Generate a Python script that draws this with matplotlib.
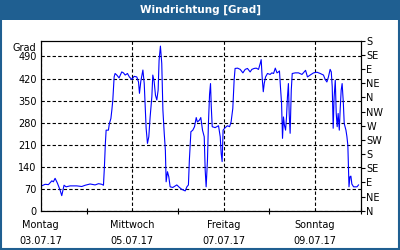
import matplotlib
matplotlib.use('Agg')
import matplotlib.pyplot as plt
import matplotlib.dates as mdates
from matplotlib.patches import Rectangle
from datetime import datetime, timedelta

start = datetime(2017, 7, 3)

# hours since Monday 03.07.17 00:00, wind direction in degrees
hours = [0.0, 2.3, 4.0, 5.8, 6.6, 7.5, 8.7, 10.1, 11.0, 12.2, 13.3, 15.4, 18.9, 21.5,
         23.3, 25.9, 28.5, 30.3, 32.0, 32.9, 33.4, 33.9, 34.3, 35.5, 36.0, 36.8, 37.3,
         37.8, 38.5, 39.0, 39.9, 41.1, 42.5, 43.4, 44.3, 45.5, 46.5, 47.8, 49.0, 50.4,
         51.3, 51.8, 52.5, 53.6, 54.3, 54.8, 55.3, 56.0, 56.7, 57.4, 58.3, 58.8, 59.5,
         60.2, 60.9, 61.6, 62.1, 62.8, 63.5, 64.1, 64.8, 65.4, 65.8, 66.5, 67.2, 67.9,
         69.3, 71.4, 72.8, 74.0, 75.8, 76.7, 77.5, 78.0, 78.8, 79.8, 80.7, 81.6, 82.2,
         83.3, 84.0, 84.9, 85.8, 86.3, 86.8, 87.5, 88.0, 88.6, 89.1, 89.5, 90.0, 91.5,
         93.3, 94.2, 94.7, 95.2, 95.7, 96.8, 98.0, 99.1, 99.9, 100.8, 101.5, 102.0,
         103.3, 104.7, 106.1, 107.3, 108.5, 109.9, 110.8, 112.0, 113.1, 114.3, 115.2,
         115.7, 116.2, 116.8, 117.3, 118.0, 119.0, 120.4, 121.3, 122.2, 123.1, 124.0,
         124.8, 125.3, 125.7, 126.4, 126.9, 127.4, 127.9, 128.5, 129.0, 129.5, 130.0,
         130.4, 130.9, 131.5, 132.0, 133.6, 135.3, 137.1, 138.3, 139.0, 140.0, 141.4,
         143.2, 145.0, 146.7, 148.4, 149.3, 150.2, 151.0, 151.9, 152.5, 153.0, 153.5,
         154.0, 154.6, 155.1, 155.6, 156.1, 156.7, 157.2, 157.7, 158.2, 158.8, 159.3,
         160.2, 160.7, 161.2, 161.8, 162.3, 162.8, 163.3, 164.2, 166.0, 166.8]
degrees = [78, 84, 83, 95, 92, 103, 88, 66, 48, 81, 76, 79, 79, 77,
           81, 85, 82, 86, 84, 81, 140, 214, 256, 256, 277, 293, 320,
           351, 425, 436, 431, 422, 441, 438, 431, 436, 425, 417, 427, 425,
           409, 373, 411, 447, 404, 330, 262, 214, 235, 298, 362, 431, 411,
           367, 352, 383, 478, 523, 468, 320, 246, 192, 92, 124, 108, 76,
           74, 82, 74, 68, 63, 76, 82, 161, 251, 256, 267, 296, 282,
           288, 296, 256, 235, 129, 76, 161, 277, 370, 404, 330, 267, 264,
           270, 235, 182, 156, 256, 264, 270, 267, 282, 325, 415, 452,
           453, 449, 438, 449, 452, 441, 449, 452, 453, 449, 468,
           480, 425, 378, 404, 425, 436, 433, 438, 436, 453, 438,
           441, 444, 404, 341, 230, 298, 272, 256, 298, 362, 404,
           309, 246, 383, 436, 438, 438, 433, 441, 446, 425, 431,
           438, 440, 436, 431, 417, 409, 425, 449, 441, 394, 262,
           362, 415, 309, 267, 309, 256, 325, 383, 404, 346, 277,
           256, 236, 208, 76, 108, 110, 85, 76, 76, 82]

day_names = ['Montag', 'Mittwoch', 'Freitag', 'Sonntag']
y_ticks = [0, 70, 140, 210, 280, 350, 420, 490]
dir_ticks = [0, 45, 90, 135, 180, 225, 270, 315, 360, 405, 450, 495, 540]
dir_labels = ['N', 'NE', 'E', 'SE', 'S', 'SW', 'W', 'NW', 'N', 'NE', 'E', 'SE', 'S']

bar_blue = '#1f5f91'
times = [start + timedelta(hours=h) for h in hours]

fig = plt.figure(figsize=(4, 2.5), dpi=100)
fig.patches.append(Rectangle((0, 0.92), 1, 0.08, transform=fig.transFigure,
                             facecolor=bar_blue, edgecolor='none', zorder=0))
fig.patches.append(Rectangle((0.002, 0.003), 0.996, 0.994, transform=fig.transFigure,
                             facecolor='none', edgecolor=bar_blue, linewidth=1.5, zorder=5))
fig.text(0.5, 0.96, 'Windrichtung [Grad]', color='white', fontsize=7.5,
         fontweight='bold', ha='center', va='center')

ax = fig.add_axes([0.102, 0.157, 0.8, 0.68])
ax.plot(times, degrees, color='#0000ff', linewidth=0.8)

ax.set_xlim(start, start + timedelta(days=7))
ax.set_ylim(0, 540)

label_days = [start + timedelta(days=2 * i) for i in range(4)]
ax.set_xticks([mdates.date2num(d) for d in label_days])
ax.set_xticklabels([n + '\n' + d.strftime('%d.%m.%y') for n, d in zip(day_names, label_days)],
                   fontsize=7, linespacing=1.75)
ax.set_xticks([mdates.date2num(start + timedelta(days=i)) for i in range(8)], minor=True)
ax.tick_params(axis='x', which='major', length=0, pad=7)
ax.tick_params(axis='x', which='minor', direction='inout', length=4, width=0.8)

ax.set_yticks(y_ticks)
ax.set_yticklabels([str(v) for v in y_ticks], fontsize=7)
ax.tick_params(axis='y', length=0, pad=3)
ax.text(-0.015, 0.955, 'Grad', transform=ax.transAxes, fontsize=7, ha='right', va='center')

ax.grid(True, which='major', color='black', linestyle=(0, (3, 2)), linewidth=0.8)

for s in ax.spines.values():
    s.set_linewidth(0.8)

ax2 = ax.twinx()
ax2.set_ylim(0, 540)
ax2.set_yticks(dir_ticks)
ax2.set_yticklabels(dir_labels, fontsize=7)
ax2.tick_params(axis='y', direction='out', length=3, width=0.8, pad=1)

fig.savefig('out.png', dpi=100)
